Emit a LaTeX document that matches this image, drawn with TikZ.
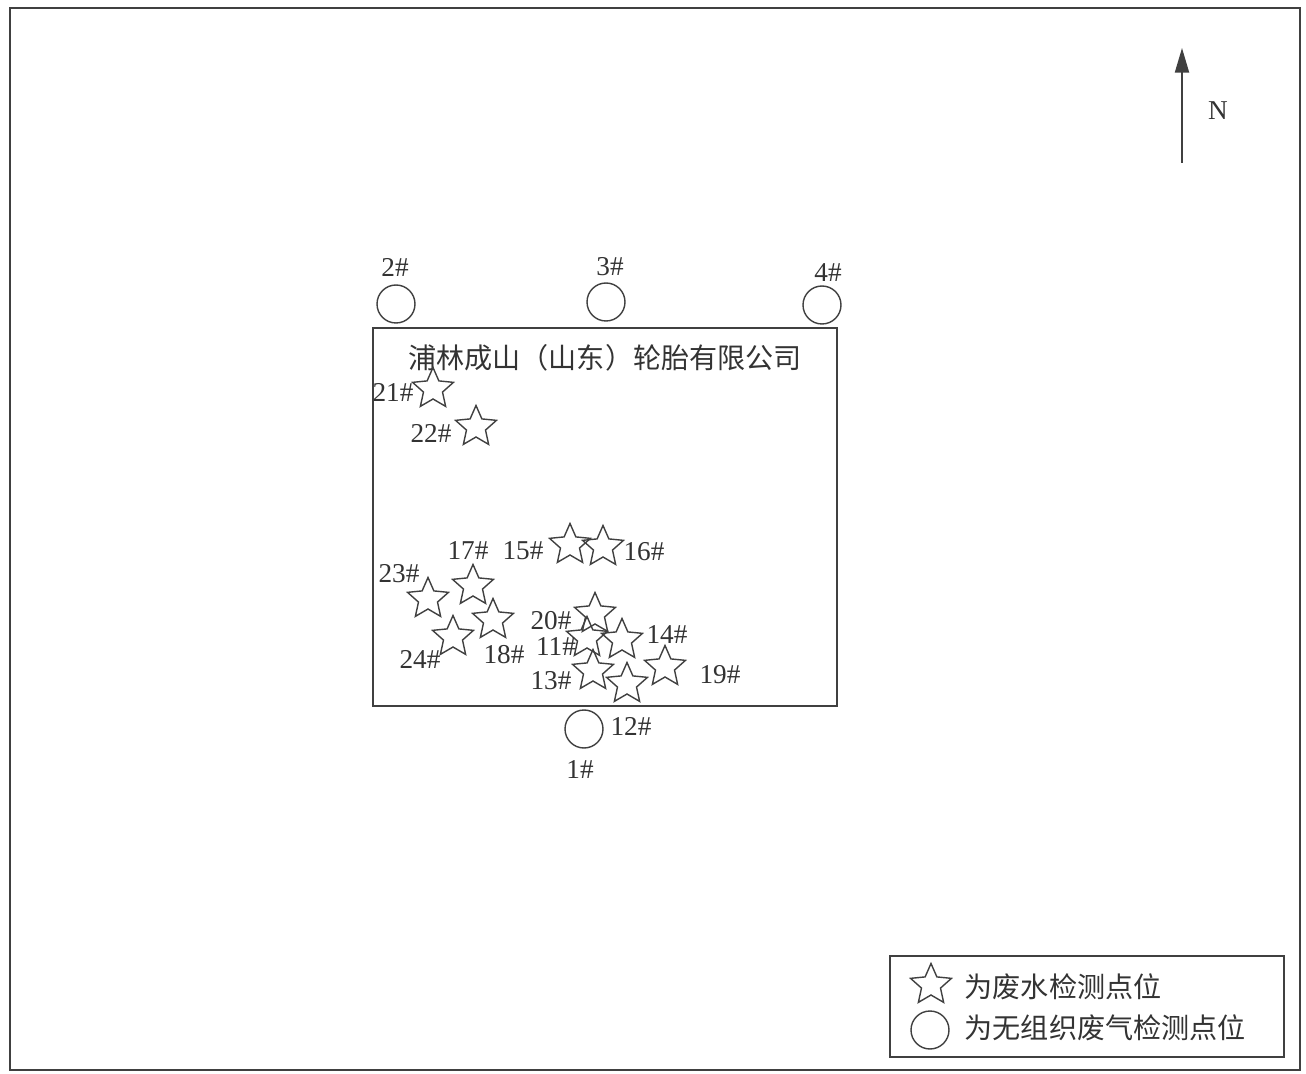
\documentclass[tikz,border=0pt]{standalone}
\usepackage{fontspec}
\setmainfont{Liberation Serif}
\newfontfamily\cjk{Noto Sans CJK SC}
\usetikzlibrary{shapes.geometric,arrows.meta}

\begin{document}
\begin{tikzpicture}[x=0.02cm, y=-0.02cm, line width=0.8pt, draw=black!75,
    water/.style = {draw=black!75, shape=star, star points=5, star point ratio=2.15, minimum size=0.86cm, inner sep=0pt},
    gas/.style = {draw=black!75, circle, minimum size=0.76cm, inner sep=0pt},
    tag/.style = {inner sep=0pt, text=black!80, font=\fontsize{15.5pt}{17pt}\selectfont},
    cn/.style = {inner sep=0pt, text=black!80, font=\fontsize{16pt}{18pt}\selectfont\cjk}]
    \useasboundingbox (0,0) rectangle (1306,1074);
    % frame and site
    \draw[black!75] (10,8) rectangle (1300,1070);
    \draw[black!75] (373,328) rectangle (837,706);
    \node[cn] (site) at (605,358) {浦林成山（山东）轮胎有限公司};
    % north arrow
    \coordinate (s) at (1182,163);
    \coordinate (n) at (1182,48);
    \draw[-{Triangle[length=14pt,width=8pt]}, line width=1pt, black!75] (s) -- (n);
    \node[tag] (N) at (1218,111) {N};
    % gas points
    \node[gas] (g1) at (584,729) {};
    \node[gas] (g2) at (396,304) {};
    \node[gas] (g3) at (606,302) {};
    \node[gas] (g4) at (822,305) {};
    \node[tag] (t1) at (580,770) {1\#};
    \node[tag] (t2) at (395,267) {2\#};
    \node[tag] (t3) at (610,267) {3\#};
    \node[tag] (t4) at (828,273) {4\#};
    % water points
    \node[water] (w11) at (587,638) {};
    \node[water] (w12) at (627,684) {};
    \node[water] (w13) at (593,671) {};
    \node[water] (w14) at (622,640) {};
    \node[water] (w15) at (570,545) {};
    \node[water] (w16) at (603,547) {};
    \node[water] (w17) at (473,586) {};
    \node[water] (w18) at (493,620) {};
    \node[water] (w19) at (665,667) {};
    \node[water] (w20) at (595,614) {};
    \node[water] (w21) at (433,389) {};
    \node[water] (w22) at (476,427) {};
    \node[water] (w23) at (428,599) {};
    \node[water] (w24) at (453,637) {};
    \node[tag] (t11) at (556,647) {11\#};
    \node[tag] (t12) at (631,726) {12\#};
    \node[tag] (t13) at (551,681) {13\#};
    \node[tag] (t14) at (667,635) {14\#};
    \node[tag] (t15) at (523,551) {15\#};
    \node[tag] (t16) at (644,552) {16\#};
    \node[tag] (t17) at (468,551) {17\#};
    \node[tag] (t18) at (504,655) {18\#};
    \node[tag] (t19) at (720,675) {19\#};
    \node[tag] (t20) at (551,621) {20\#};
    \node[tag] (t21) at (393,392) {21\#};
    \node[tag] (t22) at (431,433) {22\#};
    \node[tag] (t23) at (399,574) {23\#};
    \node[tag] (t24) at (420,659) {24\#};
    % legend
    \draw[black!75] (890,956) rectangle (1284,1057);
    \node[water] (lw) at (931,985) {};
    \node[gas] (lg) at (930,1030) {};
    \node[cn, anchor=west] (lwt) at (964,987) {为废水检测点位};
    \node[cn, anchor=west] (lgt) at (964,1028) {为无组织废气检测点位};
\end{tikzpicture}
\end{document}
